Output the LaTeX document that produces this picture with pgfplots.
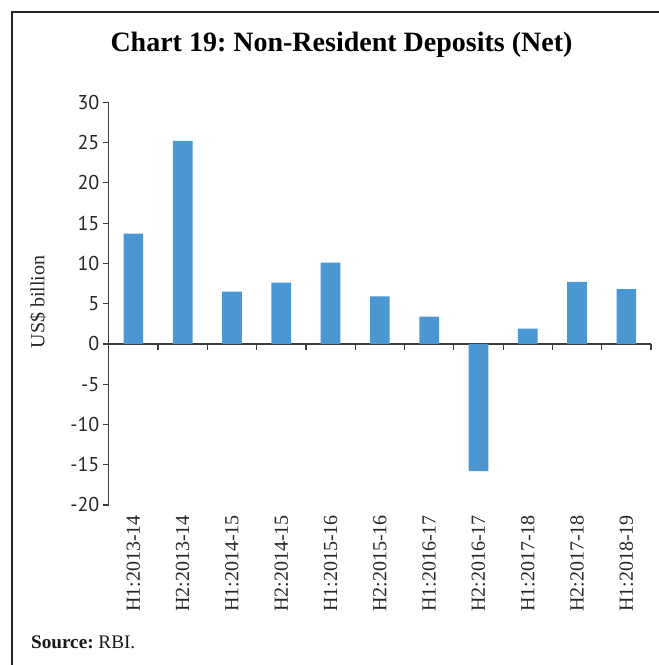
\documentclass[border=0pt]{standalone}
\usepackage{fontspec}
\setmainfont{Liberation Serif}
\newfontfamily\ticksans{PT Sans}
\usepackage{pgfplots}
\pgfplotsset{compat=1.18}

\definecolor{barblue}{RGB}{75,151,210}
\definecolor{axisgray}{RGB}{60,60,60}

\begin{document}
\frenchspacing
\begin{tikzpicture}
% page: 659 x 665 px at 0.5pt per px
\path[use as bounding box] (0,0) rectangle (329.5pt,332.5pt);
\draw[line width=0.8pt, black!85] (6pt,0) -- (6pt,326.5pt) -- (329.5pt,326.5pt);

\node[anchor=base, inner sep=0pt, font=\fontsize{14}{16}\selectfont\bfseries] at (170.75pt,306.65pt)
  {Chart 19: Non-Resident Deposits (Net)};

\begin{axis}[
    at={(54.35pt,80pt)}, anchor=south west,
    scale only axis,
    width=271.15pt, height=201.35pt,
    xmin=-0.5, xmax=10.5,
    ymin=-20, ymax=30,
    axis x line=middle,
    axis y line=left,
    axis line style={-, draw=axisgray, line width=0.6pt},
    ytick={-20,-15,...,30},
    xtick={0,...,10},
    xticklabels={H1:2013-14,H2:2013-14,H1:2014-15,H2:2014-15,H1:2015-16,H2:2015-16,H1:2016-17,H2:2016-17,H1:2017-18,H2:2017-18,H1:2018-19},
    minor xtick={-0.5,0.5,...,10.5},
    major x tick style={draw=none},
    minor x tick style={draw=axisgray, line width=0.6pt},
    y tick style={draw=axisgray, line width=0.6pt},
    tick align=outside,
    major tick length=3pt, minor tick length=3pt,
    xticklabel shift=82.5pt,
    xticklabel style={rotate=90, anchor=east, inner sep=0pt, font=\fontsize{10}{12}\selectfont, text=black!85},
    yticklabel style={font=\ticksans\fontsize{10}{12}\selectfont, text=black!85, inner sep=1.5pt},
    /pgf/number format/assume math mode=true,
    clip=false,
]
\addplot[ybar, bar width=9.85pt, fill=barblue, draw=none] coordinates {
    (0,13.7) (1,25.2) (2,6.5) (3,7.6) (4,10.1) (5,5.9)
    (6,3.4) (7,-15.8) (8,1.9) (9,7.7) (10,6.8)
};
\end{axis}

% y axis title
\node[rotate=90, anchor=center, inner sep=0pt, font=\fontsize{10}{12}\selectfont, text=black!85]
  at (19pt,181.5pt) {US\$ billion};

\node[anchor=base west, inner sep=0pt, font=\fontsize{9.6}{11}\selectfont, text=black!90] at (15.35pt,8.5pt)
  {\textbf{Source:} RBI.};
\end{tikzpicture}
\end{document}
